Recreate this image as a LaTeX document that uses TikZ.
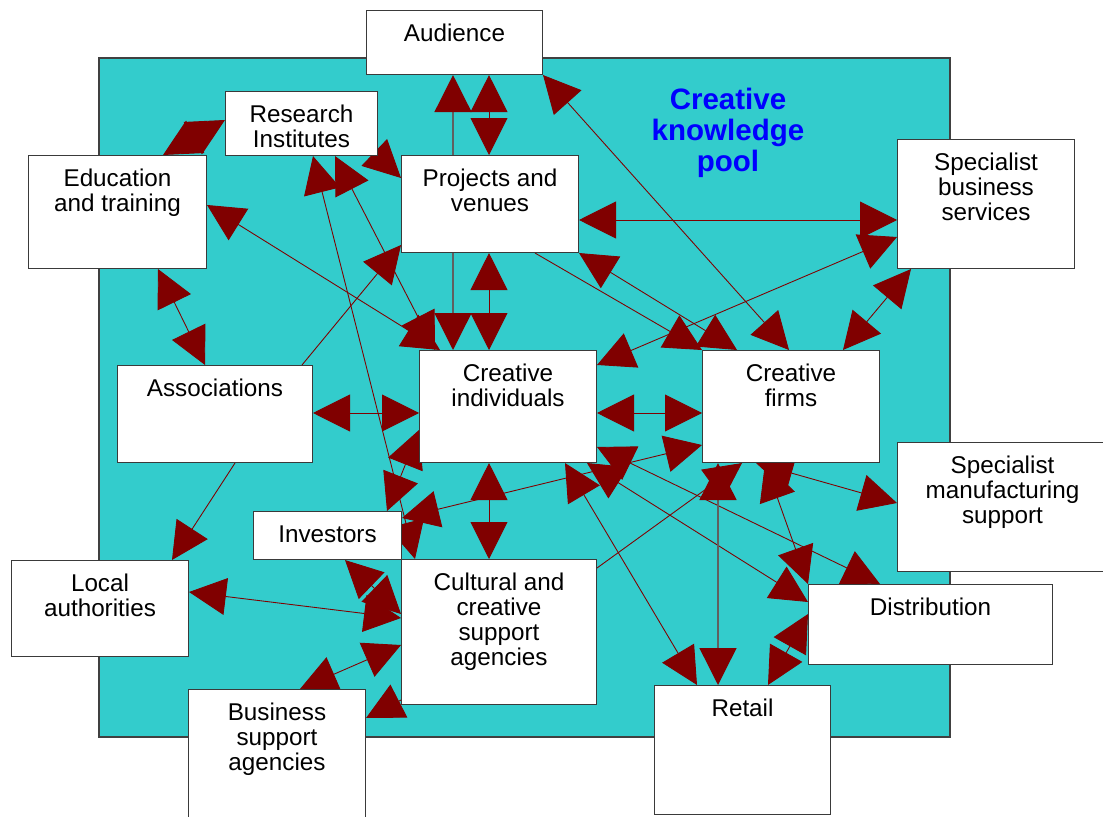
\documentclass[tikz,border=0pt]{standalone}
\usepackage{fontspec}
\setmainfont{Liberation Sans}
\usetikzlibrary{positioning,arrows.meta}

\definecolor{pool}{HTML}{33CCCC}
\definecolor{linkred}{HTML}{800000}
\definecolor{linkgray}{HTML}{606060}
\definecolor{boxline}{HTML}{3A3A3A}
\definecolor{titleblue}{HTML}{0000FF}

\pgfdeclarelayer{bg}
\pgfdeclarelayer{links}
\pgfsetlayers{bg,links,main}

\tikzset{
  box/.style={draw=boxline, fill=white, anchor=north west, inner sep=0pt, line width=0.6pt},
  boxtext/.style={inner sep=0pt, align=center, font=\fontsize{13.8}{14.2}\selectfont},
  link/.style={draw=linkred, line width=0.5pt},
  glink/.style={draw=linkgray, line width=0.8pt},
  >={Triangle[length=7.4mm,width=7.4mm,color=linkred]}
}

\begin{document}
\begin{tikzpicture}[x=0.02cm,y=-0.02cm] % 1 unit = 1 pixel
\useasboundingbox (0,0) rectangle (1103,817);
\begin{pgfonlayer}{bg}
\filldraw[fill=pool, draw=black!75, line width=0.6pt] (99,58) rectangle (950,737);
\end{pgfonlayer}
\node[font=\fontsize{16.8}{17.6}\selectfont\bfseries, text=titleblue, align=center, anchor=north, inner sep=0pt] (pool) at (728,88) {Creative\\knowledge\\pool};

% name / left / top / width / height / text
\foreach \n/\x/\y/\w/\h/\t in {
  aud/366/10/3.52/1.28/{Audience},
  res/225/91/3.04/1.28/{Research\\Institutes},
  edu/28/155/3.56/2.26/{Education\\and training},
  proj/401/155/3.54/1.94/{Projects and\\venues},
  sbs/897/139/3.54/2.58/{Specialist\\business\\services},
  assoc/117/365/3.90/1.94/{Associations},
  ci/419/350/3.54/2.24/{Creative\\individuals},
  firms/702/350/3.54/2.24/{Creative\\firms},
  sms/897/442/4.20/2.58/{Specialist\\manufacturing\\support},
  inv/253/511/2.96/0.96/{Investors},
  la/11/560/3.54/1.92/{Local\\authorities},
  ccsa/401/559/3.90/2.90/{Cultural and\\creative\\support\\agencies},
  bsa/188/689/3.54/2.70/{Business\\support\\agencies},
  dist/808/584/4.88/1.60/{Distribution},
  retail/654/685/3.52/2.58/{Retail}}
{
  \node[box, minimum width=\w cm, minimum height=\h cm] (\n) at (\x,\y) {};
  \node[boxtext, below=0.28cm of \n.north] (\n-t) {\t};
}

\begin{pgfonlayer}{links}
\draw[glink,<->] (aud.south -| 453,0) -- (ci.north -| 453,0);
\draw[link,<->] (aud.south -| 489,0) -- (proj.north -| 489,0);
\draw[link,<->] (proj.south -| 489,0) -- (ci.north -| 489,0);
\draw[link,<->] (aud.south east) -- (firms.north -| 789,0);
\draw[link,<->] (proj.east |- 0,220) -- (sbs.west |- 0,220);
\draw[link,<->] (ci.east |- 0,365) -- (sbs.west |- 0,237);
\draw[link,<->] (firms.north -| 843,0) -- (sbs.south -| 911,0);
\draw[link,->] (proj.south -| 535,0) -- (firms.north west);
\draw[link,<->] (proj.south east) -- (firms.north -| 737,0);
\draw[link,<->] (edu.north -| 163,0) -- (res.west |- 0,120);
\draw[link,<->] (edu.east |- 0,205) -- (ci.north -| 440,0);
\draw[link,<->] (res.south -| 313,0) -- (ccsa.north -| 415,0);
\draw[link,<->] (res.south -| 335,0) -- (ci.north -| 435,0);
\draw[link,->] (res.south east) -- (proj.west |- 0,178);
\draw[link,->] (assoc.north -| 302,0) -- (proj.west |- 0,245);
\draw[link,<->] (edu.south -| 158,0) -- (assoc.north -| 205,0);
\draw[link,<->] (assoc.east |- 0,413) -- (ci.west |- 0,413);
\draw[link,->] (assoc.south -| 235,0) -- (la.north -| 172,0);
\draw[link,<->] (inv.north -| 387,0) -- (ci.west |- 0,430);
\draw[link,<->] (inv.east |- 0,518) -- (firms.west |- 0,445);
\draw[link,<->] (ci.east |- 0,413) -- (firms.west |- 0,413);
\draw[link,<->] (ci.south -| 489,0) -- (ccsa.north -| 489,0);
\draw[link,<->] (ci.south -| 565,0) -- (retail.north -| 697,0);
\draw[link,<->] (ci.south -| 587,0) -- (dist.west |- 0,602);
\draw[link,<->] (ci.east |- 0,447) -- (dist.north -| 880,0);
\draw[link,->] (ccsa.east |- 0,568) -- (firms.south -| 742,0);
\draw[glink,<->] (firms.south -| 718,0) -- (retail.north -| 718,0);
\draw[link,<->] (firms.south -| 765,0) -- (dist.north west);
\draw[link,<->] (firms.south -| 756,0) -- (sms.west |- 0,503);
\draw[link,<->] (dist.west |- 0,614) -- (retail.north -| 768,0);
\draw[link,<->] (la.east |- 0,592) -- (ccsa.west |- 0,618);
\draw[link,<->] (inv.south -| 345,0) -- (ccsa.west |- 0,614);
\draw[link,<->] (bsa.north -| 300,0) -- (ccsa.west |- 0,645);
\draw[link,->] (ccsa.west |- 0,700) -- (bsa.east |- 0,718);
\end{pgfonlayer}
\end{tikzpicture}
\end{document}
